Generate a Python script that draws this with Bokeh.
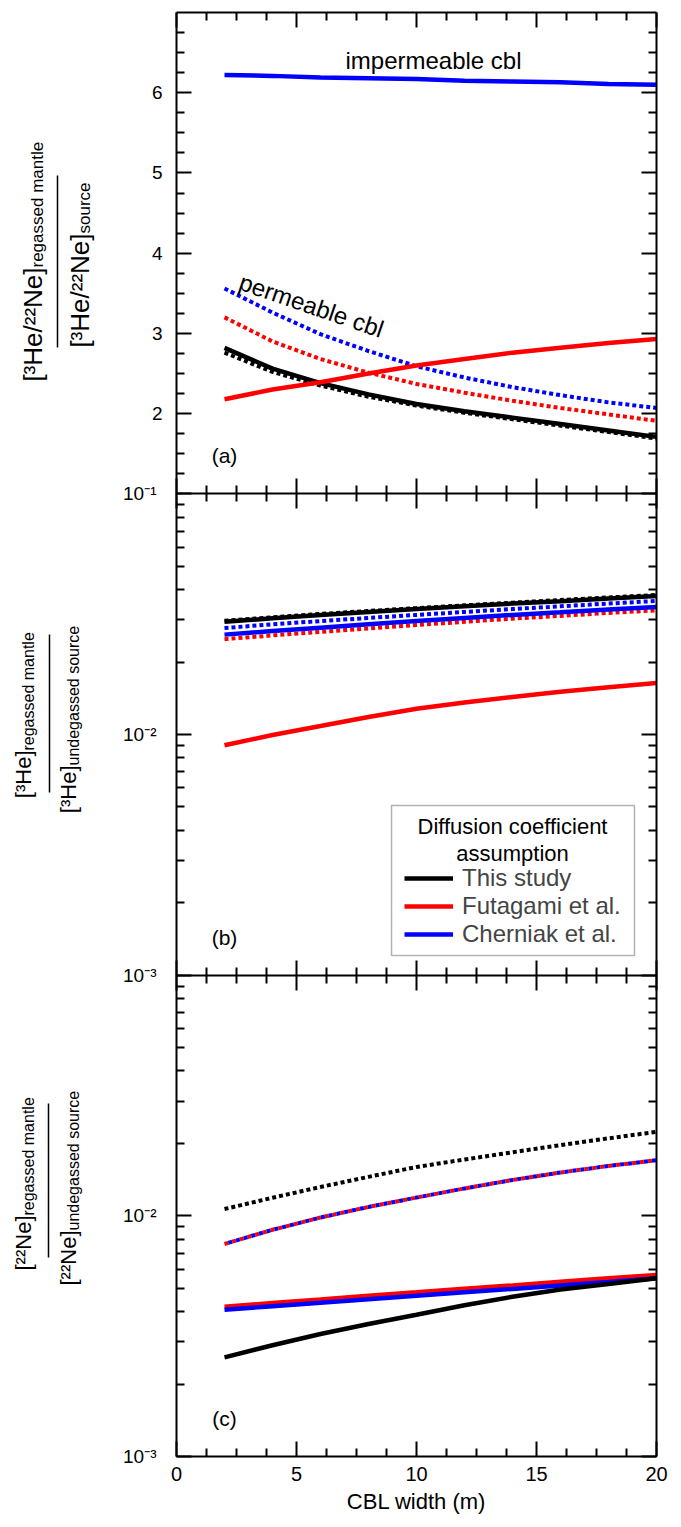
import math
from bokeh.plotting import figure
from bokeh.models import (Range1d, LinearAxis, LogAxis, LogScale, FixedTicker,
                          CustomJSTickFormatter, Label, Arrow, Legend, LegendItem, BoxAnnotation)
from bokeh.embed import file_html
from bokeh.resources import INLINE

FONT = "Liberation Sans"

# ---------------- data ----------------
cbl_width = [2, 4, 6, 8, 10, 12, 14, 16, 18, 20]

# (a) [3He/22Ne] ratio
a_this_perm = [2.82, 2.56, 2.38, 2.24, 2.12, 2.03, 1.95, 1.87, 1.79, 1.71]
a_this_dot = [2.76, 2.52, 2.35, 2.21, 2.10, 2.01, 1.93, 1.85, 1.77, 1.69]
a_futa_solid = [2.18, 2.30, 2.39, 2.50, 2.60, 2.68, 2.76, 2.82, 2.88, 2.93]
a_futa_dot = [3.20, 2.90, 2.68, 2.51, 2.37, 2.26, 2.16, 2.07, 1.99, 1.91]
a_cher_dot = [3.56, 3.26, 2.99, 2.78, 2.59, 2.45, 2.33, 2.23, 2.14, 2.07]
a_cher_solid = [6.22, 6.21, 6.19, 6.18, 6.17, 6.15, 6.14, 6.13, 6.11, 6.10]

# (b) 3He ratio
b_this_solid = [0.0294, 0.0304, 0.0314, 0.0323, 0.0332, 0.0341, 0.0350, 0.0358, 0.0367, 0.0376]
b_this_dot = [0.0297, 0.0307, 0.0317, 0.0326, 0.0335, 0.0344, 0.0353, 0.0362, 0.0371, 0.0380]
b_cher_dot = [0.0277, 0.0287, 0.0296, 0.0305, 0.0314, 0.0323, 0.0332, 0.0341, 0.0350, 0.0359]
b_cher_solid = [0.0260, 0.0269, 0.0278, 0.0287, 0.0296, 0.0305, 0.0314, 0.0322, 0.0331, 0.0339]
b_futa_dot = [0.0249, 0.0258, 0.0267, 0.0276, 0.0285, 0.0294, 0.0303, 0.0311, 0.0320, 0.0328]
b_futa_solid = [0.00902, 0.00995, 0.01084, 0.01182, 0.01279, 0.01358, 0.01433, 0.01505, 0.01572, 0.01637]

# (c) 22Ne ratio
c_this_dot = [0.01067, 0.01189, 0.01318, 0.01452, 0.01596, 0.01714, 0.01837, 0.01968, 0.02099, 0.02234]
c_futa_dot = [0.00764, 0.00875, 0.00984, 0.01089, 0.01191, 0.01300, 0.01409, 0.01514, 0.01611, 0.01702]
c_cher_dot = [0.00764, 0.00875, 0.00984, 0.01089, 0.01191, 0.01300, 0.01409, 0.01514, 0.01611, 0.01702]
c_futa_solid = [0.00419, 0.00434, 0.00449, 0.00465, 0.00481, 0.00498, 0.00514, 0.00532, 0.00550, 0.00568]
c_cher_solid = [0.00407, 0.00421, 0.00435, 0.00450, 0.00465, 0.00481, 0.00497, 0.00514, 0.00531, 0.00550]
c_this_solid = [0.00258, 0.00290, 0.00323, 0.00355, 0.00388, 0.00425, 0.00461, 0.00494, 0.00521, 0.00550]

x_major = [0, 5, 10, 15, 20]
x_minor = [1.25, 2.5, 3.75, 6.25, 7.5, 8.75, 11.25, 12.5, 13.75, 16.25, 17.5, 18.75]
a_major = [2, 3, 4, 5, 6]
a_minor = [1.25, 1.5, 1.75, 2.25, 2.5, 2.75, 3.25, 3.5, 3.75, 4.25, 4.5, 4.75,
           5.25, 5.5, 5.75, 6.25, 6.5, 6.75]
log_minor = [2e-3, 3e-3, 4e-3, 5e-3, 6e-3, 7e-3, 8e-3, 9e-3,
             2e-2, 3e-2, 4e-2, 5e-2, 6e-2, 7e-2, 8e-2, 9e-2]
b_major = [1e-3, 1e-2, 1e-1]
c_major = [1e-3, 1e-2]
legend_labels = ["This study", "Futagami et al.", "Cherniak et al."]

# ---------------- layout geometry (pixels) ----------------
W, H = 681, 1527
BOX_L, BOX_R, BOX_T, BOX_B = 176, 656, 12, 1456
PXU = (BOX_R - BOX_L) / 20.0          # pixels per x unit
PH = (BOX_B - BOX_T) / 3.0            # pixels per panel

x0, x1 = -BOX_L / PXU, (W - BOX_L) / PXU
m0, m1 = -(H - BOX_B) / PH, 3 + BOX_T / PH   # main y: panel c=[0,1], b=[1,2], a=[2,3]

p = figure(width=W, height=H, x_range=Range1d(x0, x1), y_range=Range1d(m0, m1),
           x_axis_location=None, y_axis_location=None,
           output_backend="svg", toolbar_location=None,
           min_border_left=0, min_border_right=0, min_border_top=0, min_border_bottom=0)
p.grid.visible = False
p.outline_line_color = None
p.background_fill_color = "white"
p.border_fill_color = "white"

p.extra_y_ranges = {
    "a": Range1d(1 + (m0 - 2) * 6, 1 + (m1 - 2) * 6),
    "b": Range1d(10 ** (-3 + (m0 - 1) * 2), 10 ** (-3 + (m1 - 1) * 2)),
    "c": Range1d(10 ** (-3 + m0 * 2), 10 ** (-3 + m1 * 2)),
}
p.extra_y_scales = {"b": LogScale(), "c": LogScale()}

LW = 4.5
LD = 4
DOT = "4 3"

# panel (a)
p.line(cbl_width, a_this_dot, y_range_name="a", line_color="black", line_width=LD, line_dash=DOT)
p.line(cbl_width, a_futa_dot, y_range_name="a", line_color="red", line_width=LD, line_dash=DOT)
p.line(cbl_width, a_cher_dot, y_range_name="a", line_color="blue", line_width=LD, line_dash=DOT)
p.line(cbl_width, a_this_perm, y_range_name="a", line_color="black", line_width=LW)
p.line(cbl_width, a_futa_solid, y_range_name="a", line_color="red", line_width=LW)
p.line(cbl_width, a_cher_solid, y_range_name="a", line_color="blue", line_width=LW)

# panel (b)
p.line(cbl_width, b_futa_dot, y_range_name="b", line_color="red", line_width=LD, line_dash=DOT)
rb_blue = p.line(cbl_width, b_cher_solid, y_range_name="b", line_color="blue", line_width=LW)
p.line(cbl_width, b_cher_dot, y_range_name="b", line_color="blue", line_width=LD, line_dash=DOT)
rb_black = p.line(cbl_width, b_this_solid, y_range_name="b", line_color="black", line_width=LW)
p.line(cbl_width, b_this_dot, y_range_name="b", line_color="black", line_width=LD, line_dash=DOT)
rb_red = p.line(cbl_width, b_futa_solid, y_range_name="b", line_color="red", line_width=LW)

# panel (c)
p.line(cbl_width, c_this_dot, y_range_name="c", line_color="black", line_width=LD, line_dash=DOT)
p.line(cbl_width, c_futa_dot, y_range_name="c", line_color="red", line_width=LD, line_dash="4 4")
p.line(cbl_width, c_cher_dot, y_range_name="c", line_color="blue", line_width=LD, line_dash="4 4",
       line_dash_offset=4)
p.line(cbl_width, c_futa_solid, y_range_name="c", line_color="red", line_width=LW)
p.line(cbl_width, c_cher_solid, y_range_name="c", line_color="blue", line_width=LW)
p.line(cbl_width, c_this_solid, y_range_name="c", line_color="black", line_width=LW)


# ---------------- axes (all at fixed locations, forming the panel boxes) ----------------
def style(ax, tin, tout, minin, minout, line=True):
    ax.major_tick_in = tin
    ax.major_tick_out = tout
    ax.minor_tick_in = minin
    ax.minor_tick_out = minout
    ax.major_tick_line_color = "black"
    ax.minor_tick_line_color = "black"
    ax.major_tick_line_width = 2
    ax.minor_tick_line_width = 2
    ax.major_label_text_font = FONT
    ax.major_label_text_font_size = "19px"
    ax.major_label_text_color = "black"
    ax.axis_line_color = "black" if line else None
    ax.axis_line_width = 2


def hide_labels(ax):
    ax.major_label_text_font_size = "0px"
    ax.major_label_text_color = None


log_fmt = CustomJSTickFormatter(code="""
const e = Math.round(Math.log10(tick));
const sup = {"-1": "\u207b\u00b9", "-2": "\u207b\u00b2", "-3": "\u207b\u00b3"};
return "10" + sup[String(e)];
""")

for side, loc, labels in (("left", 0, True), ("right", 20, False)):
    ax = LinearAxis(y_range_name="a", fixed_location=loc, bounds=(1, 7),
                    ticker=FixedTicker(ticks=a_major, minor_ticks=a_minor))
    style(ax, 15, 0, 8, 0)
    ax.major_label_standoff = 14
    if not labels:
        hide_labels(ax)
    p.add_layout(ax, side)

    for name, majors in (("b", b_major), ("c", c_major)):
        ax = LogAxis(y_range_name=name, fixed_location=loc, bounds=(1e-3, 1e-1),
                     ticker=FixedTicker(ticks=majors, minor_ticks=log_minor),
                     formatter=log_fmt)
        style(ax, 15, 0, 8, 0)
        ax.major_label_standoff = 20
        if not labels:
            hide_labels(ax)
        p.add_layout(ax, side)

xt = FixedTicker(ticks=x_major, minor_ticks=x_minor)
for loc in (1, 2):
    ax = LinearAxis(fixed_location=loc, ticker=xt, bounds=(0, 20))
    style(ax, 15, 15, 8, 8)
    hide_labels(ax)
    p.add_layout(ax, "below")

ax = LinearAxis(fixed_location=3, ticker=xt, bounds=(0, 20))
style(ax, 15, 0, 8, 0)
hide_labels(ax)
p.add_layout(ax, "above")

xb = LinearAxis(fixed_location=0, ticker=xt, bounds=(0, 20))
style(xb, 15, 0, 8, 0)
xb.major_label_standoff = 10
xb.major_label_text_font_size = "20px"
p.add_layout(xb, "below")


# ---------------- annotations ----------------
def xd(px):
    return (px - BOX_L) / PXU


def ym(py):
    return (BOX_B - py) / PH


def lab(text, px, py, size, align="center", baseline="middle", angle=0.0):
    p.add_layout(Label(x=xd(px), y=ym(py), text=text, text_font=FONT, text_font_size=size,
                       text_align=align, text_baseline=baseline, angle=angle, text_color="black"))


lab("CBL width (m)", 416, 1501, "22px")
lab("impermeable cbl", 433, 60, "24px")
lab("permeable cbl", 311, 305, "24px", angle=-0.33)
lab("(a)", 224, 455, "21px")
lab("(b)", 224, 937, "21px")
lab("(c)", 224, 1418, "21px")

HALF = math.pi / 2


def frac_label(num_main, num_sub, den_main, den_sub, main_size, sub_size,
               n_base, n_split, d_base, d_split, bar_x, bar_top, bar_bot):
    lab(num_main, n_base, n_split, main_size, align="right", baseline="alphabetic", angle=HALF)
    lab(num_sub, n_base + 5, n_split, sub_size, align="left", baseline="alphabetic", angle=HALF)
    lab(den_main, d_base, d_split, main_size, align="right", baseline="alphabetic", angle=HALF)
    lab(den_sub, d_base + 5, d_split, sub_size, align="left", baseline="alphabetic", angle=HALF)
    p.add_layout(Arrow(end=None, x_start=xd(bar_x), y_start=ym(bar_bot), x_end=xd(bar_x),
                       y_end=ym(bar_top), line_color="black", line_width=1.5))


frac_label("[\u00b3He/\u00b2\u00b2Ne]", "regassed mantle", "[\u00b3He/\u00b2\u00b2Ne]", "source",
           "26px", "17px", 32, 267, 79, 233, 57, 175, 347)
frac_label("[\u00b3He]", "regassed mantle", "[\u00b3He]", "undegassed source",
           "22px", "16px", 23, 750, 68, 765, 49, 634, 792)
frac_label("[\u00b2\u00b2Ne]", "regassed mantle", "[\u00b2\u00b2Ne]", "undegassed source",
           "22px", "16px", 23, 1215, 68, 1230, 48, 1103, 1257)

# ---------------- legend ----------------
p.add_layout(BoxAnnotation(left=xd(391), right=xd(634), top=ym(805), bottom=ym(955),
                           fill_color="white", fill_alpha=1.0, line_color="black",
                           line_width=1.5, level="annotation"))
lab("Diffusion coefficient", 512, 826, "22px")
lab("assumption", 512, 853, "22px")

legend = Legend(items=[LegendItem(label=legend_labels[0], renderers=[rb_black]),
                       LegendItem(label=legend_labels[1], renderers=[rb_red]),
                       LegendItem(label=legend_labels[2], renderers=[rb_blue])],
                location=(404, H - 948))
legend.label_text_font = FONT
legend.label_text_font_size = "24px"
legend.border_line_color = None
legend.background_fill_alpha = 0
legend.padding = 0
legend.spacing = 0
legend.margin = 0
legend.glyph_width = 49
legend.glyph_height = 28
legend.label_height = 28
legend.label_standoff = 9
p.add_layout(legend)

open("out.html", "w").write(file_html(p, INLINE))
